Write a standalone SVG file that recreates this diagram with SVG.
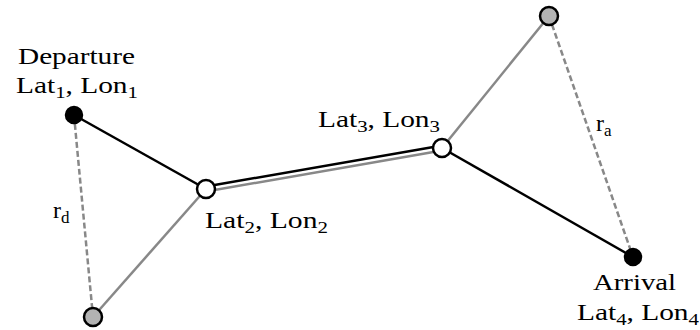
<svg xmlns="http://www.w3.org/2000/svg" width="700" height="330" viewBox="0 0 700 330">
<style>
.lbl{font-family:"Liberation Serif","DejaVu Serif",serif;font-size:24px;fill:#000}
.sub{font-size:17px}
.blk{stroke:#000;stroke-width:2.5;fill:none}
.gry{stroke:#888;stroke-width:2.5;fill:none}
.dsh{stroke:#888;stroke-width:2.5;stroke-dasharray:6,3;fill:none}
.nb{fill:#000;stroke:#000;stroke-width:2.5}
.nw{fill:#fff;stroke:#000;stroke-width:2.5}
.ng{fill:#b3b3b3;stroke:#000;stroke-width:2.5}
</style>
<g id="connectors">
<line class="dsh" x1="74" y1="115" x2="93" y2="317"/>
<line class="dsh" x1="549" y1="16" x2="633" y2="257"/>
<line class="gry" x1="93" y1="317" x2="206" y2="189"/>
<line class="gry" x1="206" y1="191.5" x2="442" y2="150.5"/>
<line class="blk" x1="206" y1="186.5" x2="442" y2="145.5"/>
<line class="gry" x1="442" y1="148" x2="549" y2="16"/>
<line class="blk" x1="74" y1="115" x2="206" y2="189"/>
<line class="blk" x1="442" y1="148" x2="633" y2="257"/>
</g>
<g id="departure">
<circle class="nb" cx="74" cy="115" r="8"/>
<text class="lbl" x="18" y="64" textLength="117" lengthAdjust="spacingAndGlyphs">Departure</text>
<text class="lbl" x="16" y="93" textLength="122" lengthAdjust="spacingAndGlyphs">Lat<tspan class="sub" dy="5">1</tspan><tspan dy="-5">, Lon</tspan><tspan class="sub" dy="5">1</tspan></text>
</g>
<g id="waypoint2">
<circle class="nw" cx="206" cy="189" r="9"/>
<text class="lbl" x="205" y="228" textLength="123" lengthAdjust="spacingAndGlyphs">Lat<tspan class="sub" dy="5">2</tspan><tspan dy="-5">, Lon</tspan><tspan class="sub" dy="5">2</tspan></text>
</g>
<g id="waypoint3">
<circle class="nw" cx="442" cy="148" r="9"/>
<text class="lbl" x="318" y="127" textLength="122" lengthAdjust="spacingAndGlyphs">Lat<tspan class="sub" dy="5">3</tspan><tspan dy="-5">, Lon</tspan><tspan class="sub" dy="5">3</tspan></text>
</g>
<g id="arrival">
<circle class="nb" cx="633" cy="257" r="8"/>
<text class="lbl" x="593" y="290" textLength="83" lengthAdjust="spacingAndGlyphs">Arrival</text>
<text class="lbl" x="577" y="320" textLength="122" lengthAdjust="spacingAndGlyphs">Lat<tspan class="sub" dy="5">4</tspan><tspan dy="-5">, Lon</tspan><tspan class="sub" dy="5">4</tspan></text>
</g>
<g id="top-point">
<circle class="ng" cx="549" cy="16" r="9"/>
</g>
<g id="bottom-point">
<circle class="ng" cx="93" cy="317" r="9"/>
</g>
<g id="label-ra">
<text class="lbl" x="596" y="131">r<tspan class="sub" dy="5">a</tspan></text>
</g>
<g id="label-rd">
<text class="lbl" x="53" y="218">r<tspan class="sub" dy="5">d</tspan></text>
</g>
</svg>
